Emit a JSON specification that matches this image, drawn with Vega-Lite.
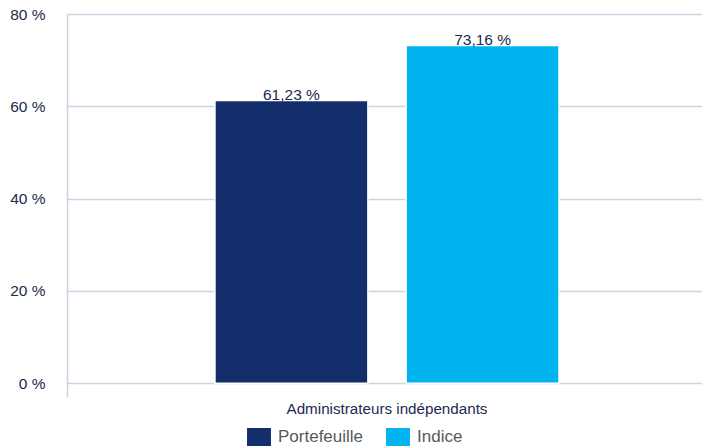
{
  "$schema": "https://vega.github.io/schema/vega-lite/v6.json",
  "width": 640,
  "height": 383,
  "autosize": {"type": "none"},
  "padding": {"left": 67, "right": 0, "top": 14, "bottom": 51},
  "config": {
    "font": "Liberation Sans",
    "view": {"stroke": null},
    "locale": {
      "number": {"decimal": ",", "thousands": "\u00a0", "grouping": [3], "currency": ["", "\u00a0€"], "percent": " %"}
    }
  },
  "data": {
    "values": [
      {"categorie": "Administrateurs indépendants", "serie": "Portefeuille", "valeur": 0.6123},
      {"categorie": "Administrateurs indépendants", "serie": "Indice", "valeur": 0.7316}
    ]
  },
  "encoding": {
    "x": {
      "field": "categorie",
      "type": "nominal",
      "scale": {"paddingInner": 0, "paddingOuter": 0.43},
      "axis": {
        "title": null,
        "domain": false,
        "ticks": false,
        "labelAngle": 0,
        "labelLimit": 0,
        "labelPadding": 4,
        "labelFontSize": 15.2,
        "labelColor": "#1C2A4E"
      }
    },
    "xOffset": {
      "field": "serie",
      "type": "nominal",
      "sort": ["Portefeuille", "Indice"],
      "scale": {"paddingInner": 0.2, "paddingOuter": 0}
    }
  },
  "layer": [
    {
      "mark": {"type": "bar", "stroke": "white", "strokeWidth": 1.5},
      "encoding": {
        "y": {
          "field": "valeur",
          "type": "quantitative",
          "scale": {"domain": [-0.03, 0.8], "nice": false, "zero": false},
          "axis": {
            "title": null,
            "values": [0, 0.2, 0.4, 0.6, 0.8],
            "format": ".0%",
            "ticks": false,
            "labelPadding": 22,
            "labelFontSize": 15.5,
            "labelColor": "#1C2A4E",
            "domainColor": "#C9D4E4",
            "domainWidth": 1.5,
            "gridColor": "#C9D4E4",
            "gridOpacity": 1,
            "gridWidth": 1.5
          }
        },
        "y2": {"datum": 0},
        "color": {
          "field": "serie",
          "type": "nominal",
          "scale": {"domain": ["Portefeuille", "Indice"], "range": ["#132E6A", "#00B5EF"]},
          "legend": {
            "title": null,
            "orient": "none",
            "legendX": 183,
            "legendY": 414,
            "padding": 0,
            "direction": "horizontal",
            "symbolType": "M-1.33,-1H1.33V1H-1.33Z",
            "symbolSize": 324,
            "symbolStrokeWidth": 0,
            "symbolOpacity": 1,
            "labelFontSize": 17,
            "labelColor": "#58595B",
            "labelOffset": 10,
            "columnPadding": 22
          }
        }
      }
    },
    {
      "mark": {"type": "text", "baseline": "alphabetic", "dy": -1, "fontSize": 15.5, "color": "#1C2A4E"},
      "encoding": {
        "y": {"field": "valeur", "type": "quantitative"},
        "text": {"field": "valeur", "type": "quantitative", "format": ".2%"}
      }
    }
  ]
}
